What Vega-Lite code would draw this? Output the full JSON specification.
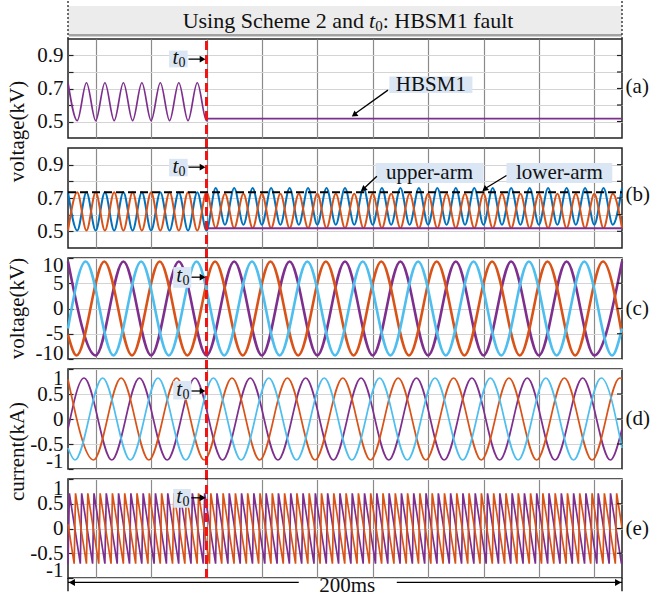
{
"$schema":"https://vega.github.io/schema/vega-lite/v6.json",
"background":"white",
"padding":{"left":5,"top":0,"right":0,"bottom":0},
"bounds":"flush",
"spacing":10,
"config":{"font":"Liberation Serif","view":{"stroke":"#222","strokeWidth":1.5},"axis":{"labelFont":"Liberation Serif","labelFontSize":21,"labelColor":"#111","labelOverlap":false,"titleFont":"Liberation Serif","titleFontSize":21,"titleFontWeight":"normal","titleColor":"#111"},"axisY":{"ticks":true,"tickSize":-5,"tickColor":"#222","tickWidth":1.2,"labelPadding":10},"text":{"font":"Liberation Serif"}},
"datasets":{
"a":[{"s":"P","t":0,"v":0.735},{"s":"P","t":3.33,"v":0.505},{"s":"P","t":6.67,"v":0.735},{"s":"P","t":10,"v":0.505},{"s":"P","t":13.33,"v":0.735},{"s":"P","t":16.67,"v":0.505},{"s":"P","t":20,"v":0.735},{"s":"P","t":23.33,"v":0.505},{"s":"P","t":26.67,"v":0.735},{"s":"P","t":30,"v":0.505},{"s":"P","t":33.33,"v":0.735},{"s":"P","t":36.67,"v":0.505},{"s":"P","t":40,"v":0.735},{"s":"P","t":43.33,"v":0.505},{"s":"P","t":46.67,"v":0.735},{"s":"P","t":50,"v":0.505},{"s":"P","t":50.4,"v":0.518},{"s":"P","t":200,"v":0.518}],
"b":[{"s":"B","t":0,"v":0.735},{"s":"B","t":3.33,"v":0.505},{"s":"B","t":6.67,"v":0.735},{"s":"B","t":10,"v":0.505},{"s":"B","t":13.33,"v":0.735},{"s":"B","t":16.67,"v":0.505},{"s":"B","t":20,"v":0.735},{"s":"B","t":23.33,"v":0.505},{"s":"B","t":26.67,"v":0.735},{"s":"B","t":30,"v":0.505},{"s":"B","t":33.33,"v":0.735},{"s":"B","t":36.67,"v":0.505},{"s":"B","t":40,"v":0.735},{"s":"B","t":43.33,"v":0.505},{"s":"B","t":46.67,"v":0.735},{"s":"B","t":50,"v":0.505},{"s":"B","t":53.33,"v":0.76},{"s":"B","t":56.67,"v":0.54},{"s":"B","t":60,"v":0.76},{"s":"B","t":63.33,"v":0.54},{"s":"B","t":66.67,"v":0.76},{"s":"B","t":70,"v":0.54},{"s":"B","t":73.33,"v":0.76},{"s":"B","t":76.67,"v":0.54},{"s":"B","t":80,"v":0.76},{"s":"B","t":83.33,"v":0.54},{"s":"B","t":86.67,"v":0.76},{"s":"B","t":90,"v":0.54},{"s":"B","t":93.33,"v":0.76},{"s":"B","t":96.67,"v":0.54},{"s":"B","t":100,"v":0.76},{"s":"B","t":103.33,"v":0.54},{"s":"B","t":106.67,"v":0.76},{"s":"B","t":110,"v":0.54},{"s":"B","t":113.33,"v":0.76},{"s":"B","t":116.67,"v":0.54},{"s":"B","t":120,"v":0.76},{"s":"B","t":123.33,"v":0.54},{"s":"B","t":126.67,"v":0.76},{"s":"B","t":130,"v":0.54},{"s":"B","t":133.33,"v":0.76},{"s":"B","t":136.67,"v":0.54},{"s":"B","t":140,"v":0.76},{"s":"B","t":143.33,"v":0.54},{"s":"B","t":146.67,"v":0.76},{"s":"B","t":150,"v":0.54},{"s":"B","t":153.33,"v":0.76},{"s":"B","t":156.67,"v":0.54},{"s":"B","t":160,"v":0.76},{"s":"B","t":163.33,"v":0.54},{"s":"B","t":166.67,"v":0.76},{"s":"B","t":170,"v":0.54},{"s":"B","t":173.33,"v":0.76},{"s":"B","t":176.67,"v":0.54},{"s":"B","t":180,"v":0.76},{"s":"B","t":183.33,"v":0.54},{"s":"B","t":186.67,"v":0.76},{"s":"B","t":190,"v":0.54},{"s":"B","t":193.33,"v":0.76},{"s":"B","t":196.67,"v":0.54},{"s":"B","t":200,"v":0.76},
{"s":"O","t":0,"v":0.505},{"s":"O","t":3.33,"v":0.735},{"s":"O","t":6.67,"v":0.505},{"s":"O","t":10,"v":0.735},{"s":"O","t":13.33,"v":0.505},{"s":"O","t":16.67,"v":0.735},{"s":"O","t":20,"v":0.505},{"s":"O","t":23.33,"v":0.735},{"s":"O","t":26.67,"v":0.505},{"s":"O","t":30,"v":0.735},{"s":"O","t":33.33,"v":0.505},{"s":"O","t":36.67,"v":0.735},{"s":"O","t":40,"v":0.505},{"s":"O","t":43.33,"v":0.735},{"s":"O","t":46.67,"v":0.505},{"s":"O","t":50,"v":0.735},{"s":"O","t":53.33,"v":0.52},{"s":"O","t":56.67,"v":0.725},{"s":"O","t":60,"v":0.52},{"s":"O","t":63.33,"v":0.725},{"s":"O","t":66.67,"v":0.52},{"s":"O","t":70,"v":0.725},{"s":"O","t":73.33,"v":0.52},{"s":"O","t":76.67,"v":0.725},{"s":"O","t":80,"v":0.52},{"s":"O","t":83.33,"v":0.725},{"s":"O","t":86.67,"v":0.52},{"s":"O","t":90,"v":0.725},{"s":"O","t":93.33,"v":0.52},{"s":"O","t":96.67,"v":0.725},{"s":"O","t":100,"v":0.52},{"s":"O","t":103.33,"v":0.725},{"s":"O","t":106.67,"v":0.52},{"s":"O","t":110,"v":0.725},{"s":"O","t":113.33,"v":0.52},{"s":"O","t":116.67,"v":0.725},{"s":"O","t":120,"v":0.52},{"s":"O","t":123.33,"v":0.725},{"s":"O","t":126.67,"v":0.52},{"s":"O","t":130,"v":0.725},{"s":"O","t":133.33,"v":0.52},{"s":"O","t":136.67,"v":0.725},{"s":"O","t":140,"v":0.52},{"s":"O","t":143.33,"v":0.725},{"s":"O","t":146.67,"v":0.52},{"s":"O","t":150,"v":0.725},{"s":"O","t":153.33,"v":0.52},{"s":"O","t":156.67,"v":0.725},{"s":"O","t":160,"v":0.52},{"s":"O","t":163.33,"v":0.725},{"s":"O","t":166.67,"v":0.52},{"s":"O","t":170,"v":0.725},{"s":"O","t":173.33,"v":0.52},{"s":"O","t":176.67,"v":0.725},{"s":"O","t":180,"v":0.52},{"s":"O","t":183.33,"v":0.725},{"s":"O","t":186.67,"v":0.52},{"s":"O","t":190,"v":0.725},{"s":"O","t":193.33,"v":0.52},{"s":"O","t":196.67,"v":0.725},{"s":"O","t":200,"v":0.52},
{"s":"P","t":50,"v":0.518},{"s":"P","t":200,"v":0.518}],
"c":[{"s":"P","t":0,"v":9.3},{"s":"P","t":10,"v":-9.3},{"s":"P","t":20,"v":9.3},{"s":"P","t":30,"v":-9.3},{"s":"P","t":40,"v":9.3},{"s":"P","t":50,"v":-9.3},{"s":"P","t":60,"v":9.3},{"s":"P","t":70,"v":-9.3},{"s":"P","t":80,"v":9.3},{"s":"P","t":90,"v":-9.3},{"s":"P","t":100,"v":9.3},{"s":"P","t":110,"v":-9.3},{"s":"P","t":120,"v":9.3},{"s":"P","t":130,"v":-9.3},{"s":"P","t":140,"v":9.3},{"s":"P","t":150,"v":-9.3},{"s":"P","t":160,"v":9.3},{"s":"P","t":170,"v":-9.3},{"s":"P","t":180,"v":9.3},{"s":"P","t":190,"v":-9.3},{"s":"P","t":200,"v":9.3},
{"s":"O","t":0,"v":-5.23},{"s":"O","t":3.1,"v":-9.3},{"s":"O","t":13.1,"v":9.3},{"s":"O","t":23.1,"v":-9.3},{"s":"O","t":33.1,"v":9.3},{"s":"O","t":43.1,"v":-9.3},{"s":"O","t":53.1,"v":9.3},{"s":"O","t":63.1,"v":-9.3},{"s":"O","t":73.1,"v":9.3},{"s":"O","t":83.1,"v":-9.3},{"s":"O","t":93.1,"v":9.3},{"s":"O","t":103.1,"v":-9.3},{"s":"O","t":113.1,"v":9.3},{"s":"O","t":123.1,"v":-9.3},{"s":"O","t":133.1,"v":9.3},{"s":"O","t":143.1,"v":-9.3},{"s":"O","t":153.1,"v":9.3},{"s":"O","t":163.1,"v":-9.3},{"s":"O","t":173.1,"v":9.3},{"s":"O","t":183.1,"v":-9.3},{"s":"O","t":193.1,"v":9.3},{"s":"O","t":200,"v":-5.23},
{"s":"C","t":0,"v":-3.96},{"s":"C","t":6.4,"v":9.3},{"s":"C","t":16.4,"v":-9.3},{"s":"C","t":26.4,"v":9.3},{"s":"C","t":36.4,"v":-9.3},{"s":"C","t":46.4,"v":9.3},{"s":"C","t":56.4,"v":-9.3},{"s":"C","t":66.4,"v":9.3},{"s":"C","t":76.4,"v":-9.3},{"s":"C","t":86.4,"v":9.3},{"s":"C","t":96.4,"v":-9.3},{"s":"C","t":106.4,"v":9.3},{"s":"C","t":116.4,"v":-9.3},{"s":"C","t":126.4,"v":9.3},{"s":"C","t":136.4,"v":-9.3},{"s":"C","t":146.4,"v":9.3},{"s":"C","t":156.4,"v":-9.3},{"s":"C","t":166.4,"v":9.3},{"s":"C","t":176.4,"v":-9.3},{"s":"C","t":186.4,"v":9.3},{"s":"C","t":196.4,"v":-9.3},{"s":"C","t":200,"v":-3.96}],
"d":[{"s":"P","t":0,"v":-0.2},{"s":"P","t":5.8,"v":0.82},{"s":"P","t":15.8,"v":-0.82},{"s":"P","t":25.8,"v":0.82},{"s":"P","t":35.8,"v":-0.82},{"s":"P","t":45.8,"v":0.82},{"s":"P","t":55.8,"v":-0.82},{"s":"P","t":65.8,"v":0.82},{"s":"P","t":75.8,"v":-0.82},{"s":"P","t":85.8,"v":0.82},{"s":"P","t":95.8,"v":-0.82},{"s":"P","t":105.8,"v":0.82},{"s":"P","t":115.8,"v":-0.82},{"s":"P","t":125.8,"v":0.82},{"s":"P","t":135.8,"v":-0.82},{"s":"P","t":145.8,"v":0.82},{"s":"P","t":155.8,"v":-0.82},{"s":"P","t":165.8,"v":0.82},{"s":"P","t":175.8,"v":-0.82},{"s":"P","t":185.8,"v":0.82},{"s":"P","t":195.8,"v":-0.82},{"s":"P","t":200,"v":-0.2},
{"s":"O","t":0,"v":0.79},{"s":"O","t":9.2,"v":-0.82},{"s":"O","t":19.2,"v":0.82},{"s":"O","t":29.2,"v":-0.82},{"s":"O","t":39.2,"v":0.82},{"s":"O","t":49.2,"v":-0.82},{"s":"O","t":59.2,"v":0.82},{"s":"O","t":69.2,"v":-0.82},{"s":"O","t":79.2,"v":0.82},{"s":"O","t":89.2,"v":-0.82},{"s":"O","t":99.2,"v":0.82},{"s":"O","t":109.2,"v":-0.82},{"s":"O","t":119.2,"v":0.82},{"s":"O","t":129.2,"v":-0.82},{"s":"O","t":139.2,"v":0.82},{"s":"O","t":149.2,"v":-0.82},{"s":"O","t":159.2,"v":0.82},{"s":"O","t":169.2,"v":-0.82},{"s":"O","t":179.2,"v":0.82},{"s":"O","t":189.2,"v":-0.82},{"s":"O","t":199.2,"v":0.82},{"s":"O","t":200,"v":0.81},
{"s":"C","t":0,"v":-0.58},{"s":"C","t":2.5,"v":-0.82},{"s":"C","t":12.5,"v":0.82},{"s":"C","t":22.5,"v":-0.82},{"s":"C","t":32.5,"v":0.82},{"s":"C","t":42.5,"v":-0.82},{"s":"C","t":52.5,"v":0.82},{"s":"C","t":62.5,"v":-0.82},{"s":"C","t":72.5,"v":0.82},{"s":"C","t":82.5,"v":-0.82},{"s":"C","t":92.5,"v":0.82},{"s":"C","t":102.5,"v":-0.82},{"s":"C","t":112.5,"v":0.82},{"s":"C","t":122.5,"v":-0.82},{"s":"C","t":132.5,"v":0.82},{"s":"C","t":142.5,"v":-0.82},{"s":"C","t":152.5,"v":0.82},{"s":"C","t":162.5,"v":-0.82},{"s":"C","t":172.5,"v":0.82},{"s":"C","t":182.5,"v":-0.82},{"s":"C","t":192.5,"v":0.82},{"s":"C","t":200,"v":-0.58}],
"e":[{"s":"P","t":0,"v":-0.71},{"s":"P","t":4.44,"v":-0.71},{"s":"P","t":8.88,"v":-0.71},{"s":"P","t":13.32,"v":-0.71},{"s":"P","t":17.76,"v":-0.71},{"s":"P","t":22.2,"v":-0.71},{"s":"P","t":26.64,"v":-0.71},{"s":"P","t":31.08,"v":-0.71},{"s":"P","t":35.52,"v":-0.71},{"s":"P","t":39.96,"v":-0.71},{"s":"P","t":44.4,"v":-0.71},{"s":"P","t":48.84,"v":-0.71},{"s":"P","t":53.28,"v":-0.71},{"s":"P","t":57.72,"v":-0.71},{"s":"P","t":62.16,"v":-0.71},{"s":"P","t":66.6,"v":-0.71},{"s":"P","t":71.04,"v":-0.71},{"s":"P","t":75.48,"v":-0.71},{"s":"P","t":79.92,"v":-0.71},{"s":"P","t":84.36,"v":-0.71},{"s":"P","t":88.8,"v":-0.71},{"s":"P","t":93.24,"v":-0.71},{"s":"P","t":97.68,"v":-0.71},{"s":"P","t":102.12,"v":-0.71},{"s":"P","t":106.56,"v":-0.71},{"s":"P","t":111,"v":-0.71},{"s":"P","t":115.44,"v":-0.71},{"s":"P","t":119.88,"v":-0.71},{"s":"P","t":124.32,"v":-0.71},{"s":"P","t":128.76,"v":-0.71},{"s":"P","t":133.2,"v":-0.71},{"s":"P","t":137.64,"v":-0.71},{"s":"P","t":142.08,"v":-0.71},{"s":"P","t":146.52,"v":-0.71},{"s":"P","t":150.96,"v":-0.71},{"s":"P","t":155.4,"v":-0.71},{"s":"P","t":159.84,"v":-0.71},{"s":"P","t":164.28,"v":-0.71},{"s":"P","t":168.72,"v":-0.71},{"s":"P","t":173.16,"v":-0.71},{"s":"P","t":177.6,"v":-0.71},{"s":"P","t":182.04,"v":-0.71},{"s":"P","t":186.48,"v":-0.71},{"s":"P","t":190.92,"v":-0.71},{"s":"P","t":195.36,"v":-0.71},{"s":"P","t":199.8,"v":-0.71},{"s":"P","t":200,"v":-0.65},
{"s":"P","t":0.5,"v":0.71},{"s":"P","t":4.94,"v":0.71},{"s":"P","t":9.38,"v":0.71},{"s":"P","t":13.82,"v":0.71},{"s":"P","t":18.26,"v":0.71},{"s":"P","t":22.7,"v":0.71},{"s":"P","t":27.14,"v":0.71},{"s":"P","t":31.58,"v":0.71},{"s":"P","t":36.02,"v":0.71},{"s":"P","t":40.46,"v":0.71},{"s":"P","t":44.9,"v":0.71},{"s":"P","t":49.34,"v":0.71},{"s":"P","t":53.78,"v":0.71},{"s":"P","t":58.22,"v":0.71},{"s":"P","t":62.66,"v":0.71},{"s":"P","t":67.1,"v":0.71},{"s":"P","t":71.54,"v":0.71},{"s":"P","t":75.98,"v":0.71},{"s":"P","t":80.42,"v":0.71},{"s":"P","t":84.86,"v":0.71},{"s":"P","t":89.3,"v":0.71},{"s":"P","t":93.74,"v":0.71},{"s":"P","t":98.18,"v":0.71},{"s":"P","t":102.62,"v":0.71},{"s":"P","t":107.06,"v":0.71},{"s":"P","t":111.5,"v":0.71},{"s":"P","t":115.94,"v":0.71},{"s":"P","t":120.38,"v":0.71},{"s":"P","t":124.82,"v":0.71},{"s":"P","t":129.26,"v":0.71},{"s":"P","t":133.7,"v":0.71},{"s":"P","t":138.14,"v":0.71},{"s":"P","t":142.58,"v":0.71},{"s":"P","t":147.02,"v":0.71},{"s":"P","t":151.46,"v":0.71},{"s":"P","t":155.9,"v":0.71},{"s":"P","t":160.34,"v":0.71},{"s":"P","t":164.78,"v":0.71},{"s":"P","t":169.22,"v":0.71},{"s":"P","t":173.66,"v":0.71},{"s":"P","t":178.1,"v":0.71},{"s":"P","t":182.54,"v":0.71},{"s":"P","t":186.98,"v":0.71},{"s":"P","t":191.42,"v":0.71},{"s":"P","t":195.86,"v":0.71},
{"s":"O","t":0,"v":0.09},{"s":"O","t":2.22,"v":-0.71},{"s":"O","t":6.66,"v":-0.71},{"s":"O","t":11.1,"v":-0.71},{"s":"O","t":15.54,"v":-0.71},{"s":"O","t":19.98,"v":-0.71},{"s":"O","t":24.42,"v":-0.71},{"s":"O","t":28.86,"v":-0.71},{"s":"O","t":33.3,"v":-0.71},{"s":"O","t":37.74,"v":-0.71},{"s":"O","t":42.18,"v":-0.71},{"s":"O","t":46.62,"v":-0.71},{"s":"O","t":51.06,"v":-0.71},{"s":"O","t":55.5,"v":-0.71},{"s":"O","t":59.94,"v":-0.71},{"s":"O","t":64.38,"v":-0.71},{"s":"O","t":68.82,"v":-0.71},{"s":"O","t":73.26,"v":-0.71},{"s":"O","t":77.7,"v":-0.71},{"s":"O","t":82.14,"v":-0.71},{"s":"O","t":86.58,"v":-0.71},{"s":"O","t":91.02,"v":-0.71},{"s":"O","t":95.46,"v":-0.71},{"s":"O","t":99.9,"v":-0.71},{"s":"O","t":104.34,"v":-0.71},{"s":"O","t":108.78,"v":-0.71},{"s":"O","t":113.22,"v":-0.71},{"s":"O","t":117.66,"v":-0.71},{"s":"O","t":122.1,"v":-0.71},{"s":"O","t":126.54,"v":-0.71},{"s":"O","t":130.98,"v":-0.71},{"s":"O","t":135.42,"v":-0.71},{"s":"O","t":139.86,"v":-0.71},{"s":"O","t":144.3,"v":-0.71},{"s":"O","t":148.74,"v":-0.71},{"s":"O","t":153.18,"v":-0.71},{"s":"O","t":157.62,"v":-0.71},{"s":"O","t":162.06,"v":-0.71},{"s":"O","t":166.5,"v":-0.71},{"s":"O","t":170.94,"v":-0.71},{"s":"O","t":175.38,"v":-0.71},{"s":"O","t":179.82,"v":-0.71},{"s":"O","t":184.26,"v":-0.71},{"s":"O","t":188.7,"v":-0.71},{"s":"O","t":193.14,"v":-0.71},{"s":"O","t":197.58,"v":-0.71},
{"s":"O","t":2.72,"v":0.71},{"s":"O","t":7.16,"v":0.71},{"s":"O","t":11.6,"v":0.71},{"s":"O","t":16.04,"v":0.71},{"s":"O","t":20.48,"v":0.71},{"s":"O","t":24.92,"v":0.71},{"s":"O","t":29.36,"v":0.71},{"s":"O","t":33.8,"v":0.71},{"s":"O","t":38.24,"v":0.71},{"s":"O","t":42.68,"v":0.71},{"s":"O","t":47.12,"v":0.71},{"s":"O","t":51.56,"v":0.71},{"s":"O","t":56,"v":0.71},{"s":"O","t":60.44,"v":0.71},{"s":"O","t":64.88,"v":0.71},{"s":"O","t":69.32,"v":0.71},{"s":"O","t":73.76,"v":0.71},{"s":"O","t":78.2,"v":0.71},{"s":"O","t":82.64,"v":0.71},{"s":"O","t":87.08,"v":0.71},{"s":"O","t":91.52,"v":0.71},{"s":"O","t":95.96,"v":0.71},{"s":"O","t":100.4,"v":0.71},{"s":"O","t":104.84,"v":0.71},{"s":"O","t":109.28,"v":0.71},{"s":"O","t":113.72,"v":0.71},{"s":"O","t":118.16,"v":0.71},{"s":"O","t":122.6,"v":0.71},{"s":"O","t":127.04,"v":0.71},{"s":"O","t":131.48,"v":0.71},{"s":"O","t":135.92,"v":0.71},{"s":"O","t":140.36,"v":0.71},{"s":"O","t":144.8,"v":0.71},{"s":"O","t":149.24,"v":0.71},{"s":"O","t":153.68,"v":0.71},{"s":"O","t":158.12,"v":0.71},{"s":"O","t":162.56,"v":0.71},{"s":"O","t":167,"v":0.71},{"s":"O","t":171.44,"v":0.71},{"s":"O","t":175.88,"v":0.71},{"s":"O","t":180.32,"v":0.71},{"s":"O","t":184.76,"v":0.71},{"s":"O","t":189.2,"v":0.71},{"s":"O","t":193.64,"v":0.71},{"s":"O","t":198.08,"v":0.71},{"s":"O","t":200,"v":0.02}]
},
"vconcat":[
{"width":554,"height":28,"view":{"stroke":null},
 "encoding":{"x":{"field":"t","type":"quantitative","scale":{"domain":[0,200],"nice":false,"zero":false},"axis":null},"y":{"field":"v","type":"quantitative","scale":{"domain":[0,1],"nice":false,"zero":false},"axis":null}},
 "layer":[
  {"data":{"values":[{"t":0,"t2":200,"v":-0.25,"v2":0.82}]},"mark":{"type":"rect","color":"#ececec"},"encoding":{"x2":{"field":"t2"},"y2":{"field":"v2"}}},
  {"data":{"values":[{"t":0.3,"t2":200,"v":-0.22}]},"mark":{"type":"rule","color":"#a2a2a2","strokeWidth":2.5},"encoding":{"x2":{"field":"t2"}}},
  {"data":{"values":[{"t":0,"v":1,"v2":-0.36},{"t":200,"v":1,"v2":-0.36}]},"mark":{"type":"rule","color":"#222","strokeWidth":1.3,"strokeDash":[2,2]},"encoding":{"y2":{"field":"v2"}}},
  {"data":{"values":[{"t":106.9,"v":0.27,"label":"Using Scheme 2 and"}]},"mark":{"type":"text","align":"right","baseline":"middle","fontSize":22,"color":"#111"},"encoding":{"text":{"field":"label"}}},
  {"data":{"values":[{"t":108.7,"v":0.27,"label":"t"}]},"mark":{"type":"text","align":"left","baseline":"middle","fontSize":22,"fontStyle":"italic","color":"#111"},"encoding":{"text":{"field":"label"}}},
  {"data":{"values":[{"t":110.9,"v":0.27,"label":"0"}]},"mark":{"type":"text","align":"left","baseline":"middle","fontSize":15,"dy":5,"color":"#111"},"encoding":{"text":{"field":"label"}}},
  {"data":{"values":[{"t":113.6,"v":0.27,"label":": HBSM1 fault"}]},"mark":{"type":"text","align":"left","baseline":"middle","fontSize":22,"color":"#111"},"encoding":{"text":{"field":"label"}}}
 ]},
{"width":554,"height":99,
 "encoding":{"x":{"field":"t","type":"quantitative","scale":{"domain":[0,200],"nice":false,"zero":false},"axis":{"values":[10,30,50,70,90,110,130,150,170,190],"labels":false,"ticks":false,"domain":false,"title":null,"grid":true,"gridColor":"#8a8a8a","gridWidth":1.2}},
  "y":{"field":"v","type":"quantitative","scale":{"domain":[0.4,1.0],"nice":false,"zero":false},"axis":{"values":[0.5,0.6,0.7,0.8,0.9],"labelExpr":"datum.value==0.6||datum.value==0.8?'':toString(datum.value)","domain":false,"grid":true,"gridColor":"#d4d4d4","title":"voltage(kV)","titleX":-41,"titleY":92,"titleAngle":270,"titleBaseline":"bottom","titleAlign":"center"}}},
 "layer":[
  {"data":{"name":"a"},"mark":{"type":"line","interpolate":"monotone","strokeWidth":1.7},"encoding":{"color":{"field":"s","type":"nominal","scale":{"domain":["P","O","B","C"],"range":["#7E2F8E","#D95319","#0072BD","#4DBEEE"]},"legend":null}}},
  {"data":{"values":[{"t":198.2,"t2":200,"v":0.5},{"t":198.2,"t2":200,"v":0.6},{"t":198.2,"t2":200,"v":0.7},{"t":198.2,"t2":200,"v":0.8},{"t":198.2,"t2":200,"v":0.9}]},"mark":{"type":"rule","color":"#222","strokeWidth":1.2},"encoding":{"x2":{"field":"t2"}}},
  {"data":{"values":[{"t":50,"v":0.34,"v2":1.0}]},"mark":{"type":"rule","color":"#f01414","strokeWidth":3,"strokeDash":[9,5]},"encoding":{"y2":{"field":"v2"}}},
  {"data":{"values":[{"t":36.5,"t2":43.2,"v":0.828,"v2":0.93},{"t":116,"t2":146,"v":0.672,"v2":0.772}]},"mark":{"type":"rect","color":"#dae6f3"},"encoding":{"x2":{"field":"t2"},"y2":{"field":"v2"}}},
  {"data":{"values":[{"t":131,"v":0.722,"label":"HBSM1"}]},"mark":{"type":"text","align":"center","baseline":"middle","fontSize":21,"color":"#111"},"encoding":{"text":{"field":"label"}}},
  {"data":{"values":[{"t":37.7,"v":0.885,"label":"t"}]},"mark":{"type":"text","align":"left","baseline":"middle","fontSize":21,"fontStyle":"italic","color":"#111"},"encoding":{"text":{"field":"label"}}},
  {"data":{"values":[{"t":39.9,"v":0.885,"label":"0"}]},"mark":{"type":"text","align":"left","baseline":"middle","fontSize":14,"dy":5,"color":"#111"},"encoding":{"text":{"field":"label"}}},
  {"data":{"values":[{"t":43.5,"t2":48.3,"v":0.878,"v2":0.878},{"t":115.5,"t2":103.6,"v":0.69,"v2":0.547}]},"mark":{"type":"rule","color":"black","strokeWidth":1.3},"encoding":{"x2":{"field":"t2"},"y2":{"field":"v2"}}},
  {"data":{"values":[{"t":48.6,"v":0.878}]},"mark":{"type":"point","shape":"triangle-right","filled":true,"color":"black","size":45,"opacity":1}},
  {"data":{"values":[{"t":103.3,"v":0.54}]},"mark":{"type":"point","shape":"triangle-up","angle":234,"filled":true,"color":"black","size":45,"opacity":1}},
  {"data":{"values":[{"t":201.3,"v":0.71,"label":"(a)"}]},"mark":{"type":"text","align":"left","baseline":"middle","fontSize":21,"color":"#111"},"encoding":{"text":{"field":"label"}}}
 ]},
{"width":554,"height":100,
 "encoding":{"x":{"field":"t","type":"quantitative","scale":{"domain":[0,200],"nice":false,"zero":false},"axis":{"values":[10,30,50,70,90,110,130,150,170,190],"labels":false,"ticks":false,"domain":false,"title":null,"grid":true,"gridColor":"#8a8a8a","gridWidth":1.2}},
  "y":{"field":"v","type":"quantitative","scale":{"domain":[0.4,1.0],"nice":false,"zero":false},"axis":{"values":[0.5,0.6,0.7,0.8,0.9],"labelExpr":"datum.value==0.6||datum.value==0.8?'':toString(datum.value)","domain":false,"grid":true,"gridColor":"#d4d4d4","title":null}}},
 "layer":[
  {"data":{"name":"b"},"mark":{"type":"line","interpolate":"monotone","strokeWidth":2},"encoding":{"color":{"field":"s","type":"nominal","scale":{"domain":["P","O","B","C"],"range":["#7E2F8E","#D95319","#0072BD","#4DBEEE"]},"legend":null}}},
  {"data":{"values":[{"t":198.2,"t2":200,"v":0.5},{"t":198.2,"t2":200,"v":0.6},{"t":198.2,"t2":200,"v":0.7},{"t":198.2,"t2":200,"v":0.8},{"t":198.2,"t2":200,"v":0.9}]},"mark":{"type":"rule","color":"#222","strokeWidth":1.2},"encoding":{"x2":{"field":"t2"}}},
  {"data":{"values":[{"t":0,"t2":200,"v":0.735}]},"mark":{"type":"rule","color":"black","strokeWidth":2,"strokeDash":[8,4]},"encoding":{"x2":{"field":"t2"}}},
  {"data":{"values":[{"t":50,"v":0.34,"v2":1.0}]},"mark":{"type":"rule","color":"#f01414","strokeWidth":3,"strokeDash":[9,5]},"encoding":{"y2":{"field":"v2"}}},
  {"data":{"values":[{"t":36.5,"t2":43.2,"v":0.83,"v2":0.935},{"t":111,"t2":150,"v":0.79,"v2":0.91},{"t":158.3,"t2":196.5,"v":0.79,"v2":0.91}]},"mark":{"type":"rect","color":"#dae6f3"},"encoding":{"x2":{"field":"t2"},"y2":{"field":"v2"}}},
  {"data":{"values":[{"t":130.5,"v":0.85,"label":"upper-arm"},{"t":177.4,"v":0.85,"label":"lower-arm"}]},"mark":{"type":"text","align":"center","baseline":"middle","fontSize":21,"color":"#111"},"encoding":{"text":{"field":"label"}}},
  {"data":{"values":[{"t":37.7,"v":0.885,"label":"t"}]},"mark":{"type":"text","align":"left","baseline":"middle","fontSize":21,"fontStyle":"italic","color":"#111"},"encoding":{"text":{"field":"label"}}},
  {"data":{"values":[{"t":39.9,"v":0.885,"label":"0"}]},"mark":{"type":"text","align":"left","baseline":"middle","fontSize":14,"dy":5,"color":"#111"},"encoding":{"text":{"field":"label"}}},
  {"data":{"values":[{"t":43.5,"t2":48.3,"v":0.885,"v2":0.885},{"t":111.5,"t2":107,"v":0.83,"v2":0.76},{"t":158.3,"t2":150.9,"v":0.835,"v2":0.76}]},"mark":{"type":"rule","color":"black","strokeWidth":1.3},"encoding":{"x2":{"field":"t2"},"y2":{"field":"v2"}}},
  {"data":{"values":[{"t":48.6,"v":0.885}]},"mark":{"type":"point","shape":"triangle-right","filled":true,"color":"black","size":45,"opacity":1}},
  {"data":{"values":[{"t":106.6,"v":0.752}]},"mark":{"type":"point","shape":"triangle-up","angle":228,"filled":true,"color":"black","size":45,"opacity":1}},
  {"data":{"values":[{"t":150.4,"v":0.752}]},"mark":{"type":"point","shape":"triangle-up","angle":231,"filled":true,"color":"black","size":45,"opacity":1}},
  {"data":{"values":[{"t":201.3,"v":0.72,"label":"(b)"}]},"mark":{"type":"text","align":"left","baseline":"middle","fontSize":21,"color":"#111"},"encoding":{"text":{"field":"label"}}}
 ]},
{"width":554,"height":101,
 "encoding":{"x":{"field":"t","type":"quantitative","scale":{"domain":[0,200],"nice":false,"zero":false},"axis":{"values":[10,30,50,70,90,110,130,150,170,190],"labels":false,"ticks":false,"domain":false,"title":null,"grid":true,"gridColor":"#8a8a8a","gridWidth":1.2}},
  "y":{"field":"v","type":"quantitative","scale":{"domain":[-10,10],"nice":false,"zero":false},"axis":{"values":[-10,-5,0,5,10],"labelExpr":"toString(datum.value)","labelFlush":true,"labelFlushOffset":4,"domain":false,"grid":true,"gridColor":"#d4d4d4","title":"voltage(kV)","titleX":-41,"titleY":50,"titleAngle":270,"titleBaseline":"bottom","titleAlign":"center"}}},
 "layer":[
  {"data":{"name":"c"},"mark":{"type":"line","interpolate":"monotone","strokeWidth":2.6},"encoding":{"color":{"field":"s","type":"nominal","scale":{"domain":["P","O","B","C"],"range":["#7E2F8E","#D95319","#0072BD","#4DBEEE"]},"legend":null}}},
  {"data":{"values":[{"t":198.2,"t2":200,"v":-5},{"t":198.2,"t2":200,"v":0},{"t":198.2,"t2":200,"v":5}]},"mark":{"type":"rule","color":"#222","strokeWidth":1.2},"encoding":{"x2":{"field":"t2"}}},
  {"data":{"values":[{"t":50,"v":-12,"v2":10}]},"mark":{"type":"rule","color":"#f01414","strokeWidth":3,"strokeDash":[9,5]},"encoding":{"y2":{"field":"v2"}}},
  {"data":{"values":[{"t":38,"t2":44.5,"v":4.1,"v2":8.2}]},"mark":{"type":"rect","color":"#dae6f3"},"encoding":{"x2":{"field":"t2"},"y2":{"field":"v2"}}},
  {"data":{"values":[{"t":39.1,"v":6.4,"label":"t"}]},"mark":{"type":"text","align":"left","baseline":"middle","fontSize":21,"fontStyle":"italic","color":"#111"},"encoding":{"text":{"field":"label"}}},
  {"data":{"values":[{"t":41.3,"v":6.4,"label":"0"}]},"mark":{"type":"text","align":"left","baseline":"middle","fontSize":14,"dy":5,"color":"#111"},"encoding":{"text":{"field":"label"}}},
  {"data":{"values":[{"t":44.6,"t2":48.3,"v":6.2,"v2":6.2}]},"mark":{"type":"rule","color":"black","strokeWidth":1.3},"encoding":{"x2":{"field":"t2"},"y2":{"field":"v2"}}},
  {"data":{"values":[{"t":48.6,"v":6.2}]},"mark":{"type":"point","shape":"triangle-right","filled":true,"color":"black","size":45,"opacity":1}},
  {"data":{"values":[{"t":201.3,"v":0,"label":"(c)"}]},"mark":{"type":"text","align":"left","baseline":"middle","fontSize":21,"color":"#111"},"encoding":{"text":{"field":"label"}}}
 ]},
{"width":554,"height":100,
 "encoding":{"x":{"field":"t","type":"quantitative","scale":{"domain":[0,200],"nice":false,"zero":false},"axis":{"values":[10,30,50,70,90,110,130,150,170,190],"labels":false,"ticks":false,"domain":false,"title":null,"grid":true,"gridColor":"#8a8a8a","gridWidth":1.2}},
  "y":{"field":"v","type":"quantitative","scale":{"domain":[-1,1],"nice":false,"zero":false},"axis":{"values":[-1,-0.5,0,0.5,1],"labelExpr":"toString(datum.value)","labelFlush":true,"labelFlushOffset":2,"domain":false,"grid":true,"gridColor":"#d4d4d4","title":"current(kA)","titleX":-41,"titleY":82,"titleAngle":270,"titleBaseline":"bottom","titleAlign":"center"}}},
 "layer":[
  {"data":{"name":"d"},"mark":{"type":"line","interpolate":"monotone","strokeWidth":1.7},"encoding":{"color":{"field":"s","type":"nominal","scale":{"domain":["P","O","B","C"],"range":["#7E2F8E","#D95319","#0072BD","#4DBEEE"]},"legend":null}}},
  {"data":{"values":[{"t":198.2,"t2":200,"v":-0.5},{"t":198.2,"t2":200,"v":0},{"t":198.2,"t2":200,"v":0.5}]},"mark":{"type":"rule","color":"#222","strokeWidth":1.2},"encoding":{"x2":{"field":"t2"}}},
  {"data":{"values":[{"t":50,"v":-1.2,"v2":1}]},"mark":{"type":"rule","color":"#f01414","strokeWidth":3,"strokeDash":[9,5]},"encoding":{"y2":{"field":"v2"}}},
  {"data":{"values":[{"t":38,"t2":44.5,"v":0.39,"v2":0.76}]},"mark":{"type":"rect","color":"#dae6f3"},"encoding":{"x2":{"field":"t2"},"y2":{"field":"v2"}}},
  {"data":{"values":[{"t":39.1,"v":0.59,"label":"t"}]},"mark":{"type":"text","align":"left","baseline":"middle","fontSize":21,"fontStyle":"italic","color":"#111"},"encoding":{"text":{"field":"label"}}},
  {"data":{"values":[{"t":41.3,"v":0.59,"label":"0"}]},"mark":{"type":"text","align":"left","baseline":"middle","fontSize":14,"dy":5,"color":"#111"},"encoding":{"text":{"field":"label"}}},
  {"data":{"values":[{"t":44.6,"t2":48.3,"v":0.56,"v2":0.56}]},"mark":{"type":"rule","color":"black","strokeWidth":1.3},"encoding":{"x2":{"field":"t2"},"y2":{"field":"v2"}}},
  {"data":{"values":[{"t":48.6,"v":0.56}]},"mark":{"type":"point","shape":"triangle-right","filled":true,"color":"black","size":45,"opacity":1}},
  {"data":{"values":[{"t":201.3,"v":0,"label":"(d)"}]},"mark":{"type":"text","align":"left","baseline":"middle","fontSize":21,"color":"#111"},"encoding":{"text":{"field":"label"}}}
 ]},
{"width":554,"height":99,
 "encoding":{"x":{"field":"t","type":"quantitative","scale":{"domain":[0,200],"nice":false,"zero":false},"axis":{"values":[10,30,50,70,90,110,130,150,170,190],"labels":false,"ticks":false,"domain":false,"title":null,"grid":true,"gridColor":"#8a8a8a","gridWidth":1.2}},
  "y":{"field":"v","type":"quantitative","scale":{"domain":[-1,1],"nice":false,"zero":false},"axis":{"values":[-1,-0.5,0,0.5,1],"labelExpr":"toString(datum.value)","labelFlush":true,"labelFlushOffset":2,"domain":false,"grid":true,"gridColor":"#d4d4d4","title":null}}},
 "layer":[
  {"data":{"name":"e"},"mark":{"type":"line","strokeWidth":1.7},"encoding":{"color":{"field":"s","type":"nominal","scale":{"domain":["P","O","B","C"],"range":["#7E2F8E","#D95319","#0072BD","#4DBEEE"]},"legend":null}}},
  {"data":{"values":[{"t":198.2,"t2":200,"v":-0.5},{"t":198.2,"t2":200,"v":0},{"t":198.2,"t2":200,"v":0.5}]},"mark":{"type":"rule","color":"#222","strokeWidth":1.2},"encoding":{"x2":{"field":"t2"}}},
  {"data":{"values":[{"t":50,"v":-1,"v2":1}]},"mark":{"type":"rule","color":"#f01414","strokeWidth":3,"strokeDash":[9,5]},"encoding":{"y2":{"field":"v2"}}},
  {"data":{"values":[{"t":38,"t2":44.3,"v":0.42,"v2":0.8}]},"mark":{"type":"rect","color":"#dae6f3"},"encoding":{"x2":{"field":"t2"},"y2":{"field":"v2"}}},
  {"data":{"values":[{"t":39.1,"v":0.63,"label":"t"}]},"mark":{"type":"text","align":"left","baseline":"middle","fontSize":21,"fontStyle":"italic","color":"#111"},"encoding":{"text":{"field":"label"}}},
  {"data":{"values":[{"t":41.3,"v":0.63,"label":"0"}]},"mark":{"type":"text","align":"left","baseline":"middle","fontSize":14,"dy":5,"color":"#111"},"encoding":{"text":{"field":"label"}}},
  {"data":{"values":[{"t":44.5,"t2":48.3,"v":0.62,"v2":0.62},{"t":0,"t2":83.3,"v":-1.09,"v2":-1.09},{"t":118.7,"t2":200,"v":-1.09,"v2":-1.09},{"t":0,"t2":0,"v":-1,"v2":-1.27},{"t":200,"t2":200,"v":-1,"v2":-1.27}]},"mark":{"type":"rule","color":"black","strokeWidth":1.3},"encoding":{"x2":{"field":"t2"},"y2":{"field":"v2"}}},
  {"data":{"values":[{"t":48.6,"v":0.62},{"t":198.6,"v":-1.09}]},"mark":{"type":"point","shape":"triangle-right","filled":true,"color":"black","size":50,"opacity":1}},
  {"data":{"values":[{"t":1.4,"v":-1.09}]},"mark":{"type":"point","shape":"triangle-left","filled":true,"color":"black","size":50,"opacity":1}},
  {"data":{"values":[{"t":100.8,"v":-1.28,"label":"200ms"}]},"mark":{"type":"text","align":"center","baseline":"alphabetic","fontSize":21,"color":"#111"},"encoding":{"text":{"field":"label"}}},
  {"data":{"values":[{"t":201.3,"v":0,"label":"(e)"}]},"mark":{"type":"text","align":"left","baseline":"middle","fontSize":21,"color":"#111"},"encoding":{"text":{"field":"label"}}}
 ]}
]
}
